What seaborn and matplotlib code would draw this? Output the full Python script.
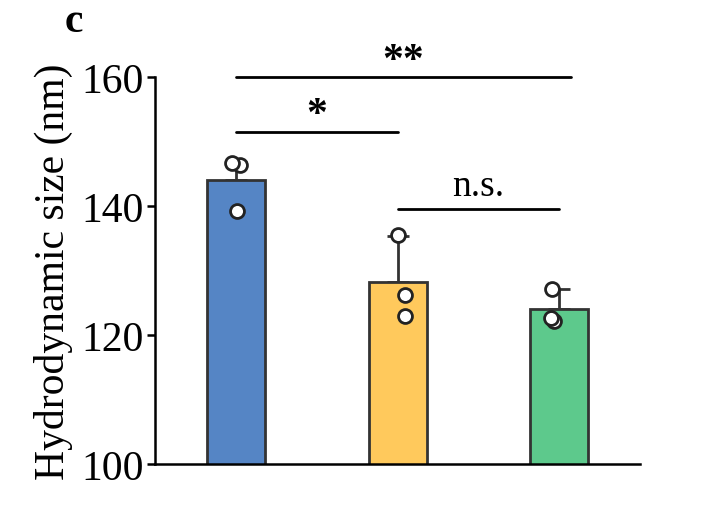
#!/usr/bin/env python3
import numpy as np
import pandas
import seaborn
from matplotlib import pyplot as plt

groups = ["A", "B", "C"]
means = [144.0, 128.3, 124.0]
err_up = [2.8, 7.1, 3.1]
points_a = [139.2, 146.3, 146.6]
points_b = [135.5, 126.2, 122.9]
points_c = [127.1, 122.2, 122.7]
colors = ["#5585C5", "#FFC95C", "#5DC98C"]

# significance brackets: (start group, end group, y level, label)
brackets = [(0, 2.07, 160.0, "**"), (0, 1, 151.5, "*"), (1, 2, 139.5, "n.s.")]

seaborn.set_style("ticks")
plt.rcParams['font.family'] = ['Liberation Serif', 'DejaVu Serif']
plt.rcParams['text.color'] = 'black'
plt.rcParams['axes.labelcolor'] = 'black'
plt.rcParams['ytick.color'] = 'black'
plt.rcParams['axes.edgecolor'] = 'black'

fig = plt.figure(figsize=(7.12, 5.10), dpi=100)
ax = fig.add_axes([0.218, 0.088, 0.681, 0.759])

bars = pandas.DataFrame({'group': groups, 'size': means})
pts = pandas.DataFrame({
	'group': [g for g, p in zip(groups, [points_a, points_b, points_c]) for _ in p],
	'size': points_a + points_b + points_c,
})

ax.errorbar(range(len(groups)), means, yerr=[[0] * len(groups), err_up], fmt='none',
	ecolor='#333333', elinewidth=2, capsize=8, capthick=2, zorder=1)
seaborn.barplot(bars, x='group', y='size', hue='group', palette=colors, width=0.36,
	saturation=1, edgecolor='#333333', linewidth=2, ax=ax, legend=False, zorder=2)
np.random.seed(3)
seaborn.stripplot(pts, x='group', y='size', color='white', edgecolor='#222222',
	linewidth=2, size=10, jitter=0.06, ax=ax, zorder=3)

for x0, x1, y, label in brackets:
	ax.plot([x0, x1], [y, y], color='black', lw=2, clip_on=False)
	if '*' in label:
		ax.text((x0 + x1) / 2, y - 0.4, label, ha='center', va='bottom', fontsize=30,
			fontweight='bold', clip_on=False)
	else:
		ax.text((x0 + x1) / 2, y + 0.9, label, ha='center', va='bottom', fontsize=27)

ax.set_ylim(100, 160)
ax.set_xlim(-0.5, 2.5)
ax.set_yticks([100, 120, 140, 160])
ax.set_xticks([])
ax.set_xlabel('')
ax.set_ylabel('Hydrodynamic size (nm)', fontsize=30, labelpad=6)
ax.tick_params(axis='y', labelsize=30, width=1.8, length=6, pad=2)
for s in ['left', 'bottom']:
	ax.spines[s].set_linewidth(1.8)
seaborn.despine(ax=ax)
fig.text(0.091, 0.937, 'c', fontsize=30, fontweight='bold', va='baseline')

fig.savefig('out.png', dpi=100)
